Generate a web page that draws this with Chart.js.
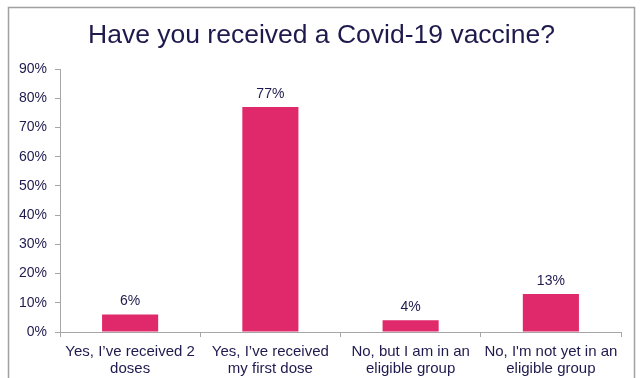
<!DOCTYPE html>
<html>
<head>
<meta charset="utf-8">
<script src="https://cdn.jsdelivr.net/npm/chart.js@4/dist/chart.umd.min.js"></script>
<style>
  html, body { margin: 0; padding: 0; background: #fff; }
  #wrap { width: 643px; height: 378px; position: relative; }
</style>
</head>
<body>
<div id="wrap"><canvas id="vaccineChart" width="643" height="378"></canvas></div>
<script>
// survey answers and share of respondents (%)
const categories = [
    ['Yes, I\u2019ve received 2', 'doses'],
    ['Yes, I\u2019ve received', 'my first dose'],
    ['No, but I am in an', 'eligible group'],
    ['No, I\'m not yet in an', 'eligible group']
];
const responses = [6, 77, 4, 13];
const yTicks = [0, 10, 20, 30, 40, 50, 60, 70, 80, 90];
const chartTitle = 'Have you received a Covid-19 vaccine?';

const textColor = '#1f1a4d';
const barColor = '#e0296a';
const axisColor = '#a6a6a6';
const fontFamily = 'Arial, "Liberation Sans", sans-serif';

// grey frame round the whole chart, title centred on the page
const framePlugin = {
    id: 'frame',
    beforeDraw(chart) {
        const ctx = chart.ctx;
        ctx.save();
        ctx.strokeStyle = '#a0a0a0';
        ctx.lineWidth = 1.5;
        ctx.strokeRect(8.5, 7.5, 626, 400);
        ctx.font = '26.5px ' + fontFamily;
        ctx.fillStyle = textColor;
        ctx.textAlign = 'center';
        ctx.textBaseline = 'alphabetic';
        ctx.fillText(chartTitle, chart.width / 2, 43);
        ctx.restore();
    }
};

// percentage above each bar
const valueLabels = {
    id: 'valueLabels',
    afterDatasetsDraw(chart) {
        const ctx = chart.ctx;
        const meta = chart.getDatasetMeta(0);
        ctx.save();
        ctx.font = '14px ' + fontFamily;
        ctx.fillStyle = textColor;
        ctx.textAlign = 'center';
        ctx.textBaseline = 'alphabetic';
        meta.data.forEach((bar, i) => {
            ctx.fillText(responses[i] + '%', bar.x, bar.y - 9);
        });
        ctx.restore();
    }
};

new Chart(document.getElementById('vaccineChart'), {
    type: 'bar',
    data: {
        labels: categories,
        datasets: [{
            data: responses,
            backgroundColor: barColor,
            borderWidth: 0,
            barPercentage: 0.4,
            categoryPercentage: 1
        }]
    },
    options: {
        responsive: false,
        animation: false,
        layout: { padding: { left: 10, right: 22, top: 69, bottom: 0 } },
        plugins: {
            legend: { display: false },
            tooltip: { enabled: false },
            title: { display: false }
        },
        scales: {
            x: {
                grid: { offset: true, drawOnChartArea: false, drawTicks: true, tickLength: 5, color: axisColor },
                border: { color: axisColor },
                ticks: {
                    color: textColor,
                    font: { family: fontFamily, size: 15, lineHeight: 1.1 },
                    padding: 7,
                    maxRotation: 0,
                    autoSkip: false
                },
                afterFit(scale) { scale.height = 46; }
            },
            y: {
                min: 0,
                max: 90,
                afterBuildTicks(scale) { scale.ticks = yTicks.map(v => ({ value: v })); },
                grid: { drawOnChartArea: false, drawTicks: true, tickLength: 5, color: axisColor },
                border: { color: axisColor },
                ticks: {
                    color: textColor,
                    font: { family: fontFamily, size: 14 },
                    padding: 8,
                    callback: v => v + '%'
                },
                afterFit(scale) { scale.width = 50; }
            }
        }
    },
    plugins: [framePlugin, valueLabels]
});
</script>
</body>
</html>
